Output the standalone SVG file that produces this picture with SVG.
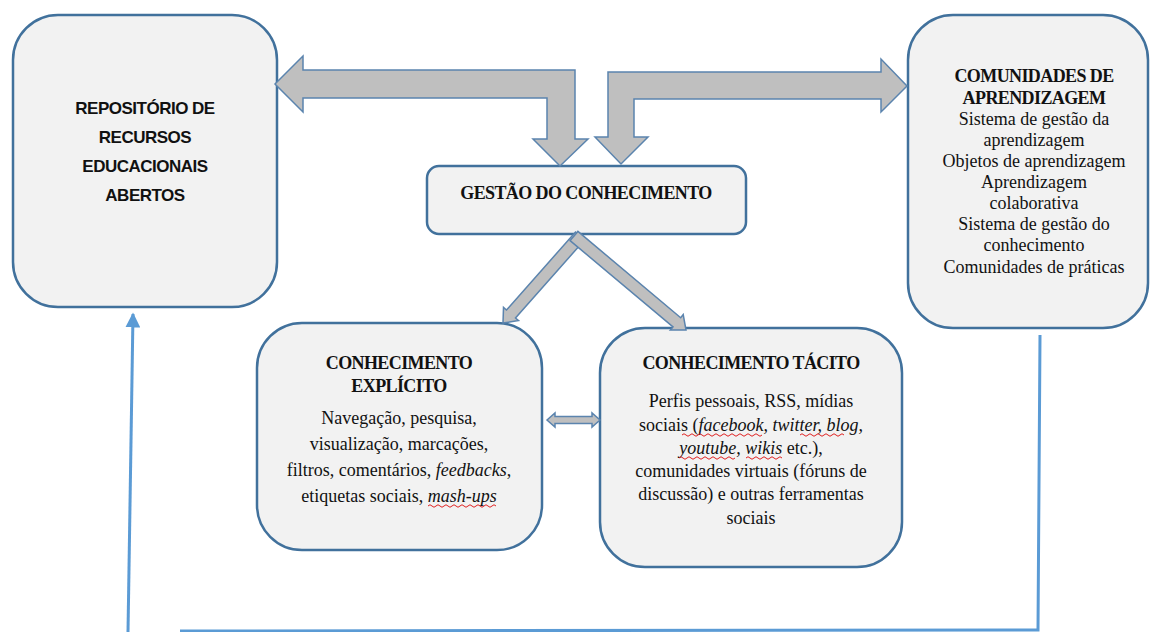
<svg xmlns="http://www.w3.org/2000/svg" width="1150" height="632" viewBox="0 0 1150 632">
  <defs>
    <style>
      .box { fill: #f2f2f2; stroke: #41719c; stroke-width: 2.5; }
      .block { fill: #bfbfbf; stroke: #5b84ae; stroke-width: 1.5; stroke-linejoin: miter; }
      .link { fill: none; stroke: #5b9bd5; stroke-width: 3; }
      .sans { font-family: "Liberation Sans", Arial, sans-serif; font-weight: bold; font-size: 17px; letter-spacing: -0.5px; fill: #111; text-anchor: middle; }
      .title { font-family: "Liberation Serif", "Times New Roman", serif; font-weight: bold; font-size: 18px; letter-spacing: -0.6px; fill: #111; text-anchor: middle; }
      .body { font-family: "Liberation Serif", "Times New Roman", serif; font-size: 18px; fill: #111; text-anchor: middle; }
      .it { font-style: italic; }
      .wavy { fill: none; stroke: #e02020; stroke-width: 1; }
    </style>
    <marker id="tri" viewBox="0 0 10 10" refX="9" refY="5" markerWidth="5" markerHeight="5" orient="auto">
      <path d="M0,0 L10,5 L0,10 Z" fill="#5b9bd5"/>
    </marker>
  </defs>

  <!-- nodes -->
  <g id="repositorio">
    <rect class="box" x="13" y="15" width="264" height="292" rx="45"/>
    <text class="sans" x="145" y="114">REPOSITÓRIO DE</text>
    <text class="sans" x="145" y="143">RECURSOS</text>
    <text class="sans" x="145" y="172">EDUCACIONAIS</text>
    <text class="sans" x="145" y="201">ABERTOS</text>
  </g>

  <g id="comunidades">
    <rect class="box" x="908" y="15" width="240" height="313" rx="45"/>
    <text class="title" x="1034" y="82">COMUNIDADES DE</text>
    <text class="title" x="1034" y="104">APRENDIZAGEM</text>
    <text class="body" x="1034" y="125">Sistema de gestão da</text>
    <text class="body" x="1034" y="146">aprendizagem</text>
    <text class="body" x="1034" y="167">Objetos de aprendizagem</text>
    <text class="body" x="1034" y="188">Aprendizagem</text>
    <text class="body" x="1034" y="209">colaborativa</text>
    <text class="body" x="1034" y="230">Sistema de gestão do</text>
    <text class="body" x="1034" y="251">conhecimento</text>
    <text class="body" x="1034" y="273">Comunidades de práticas</text>
  </g>

  <g id="gestao">
    <rect class="box" x="427" y="166" width="319" height="68" rx="12"/>
    <text class="title" x="586" y="199">GESTÃO DO CONHECIMENTO</text>
  </g>

  <g id="explicito">
    <rect class="box" x="257" y="323" width="285" height="227" rx="45"/>
    <text class="title" x="399" y="369">CONHECIMENTO</text>
    <text class="title" x="399" y="392">EXPLÍCITO</text>
    <text class="body" x="399" y="424">Navegação, pesquisa,</text>
    <text class="body" x="399" y="450">visualização, marcações,</text>
    <text class="body" x="399" y="476">filtros, comentários, <tspan class="it">feedbacks</tspan>,</text>
    <text class="body" x="399" y="502">etiquetas sociais, <tspan class="it">mash-ups</tspan></text>
    <!-- spell-check squiggle -->
    <path class="wavy" d="M428,506 q2,-2.5 4,0 t4,0 t4,0 t4,0 t4,0 t4,0 t4,0 t4,0 t4,0 t4,0 t4,0 t4,0 t4,0 t4,0 t4,0 t4,0 t4,0"/>
  </g>

  <g id="tacito">
    <rect class="box" x="600" y="328" width="302" height="239" rx="45"/>
    <text class="title" x="751" y="369">CONHECIMENTO TÁCITO</text>
    <text class="body" x="751" y="407">Perfis pessoais, RSS, mídias</text>
    <text class="body" x="751" y="431">sociais (<tspan class="it">facebook, twitter, blog,</tspan></text>
    <text class="body" x="751" y="454"><tspan class="it">youtube, wikis</tspan> etc.),</text>
    <text class="body" x="751" y="477">comunidades virtuais (fóruns de</text>
    <text class="body" x="751" y="500">discussão) e outras ferramentas</text>
    <text class="body" x="751" y="524">sociais</text>
    <!-- spell-check squiggles -->
    <path class="wavy" d="M682,435 q2,-2.5 4,0 t4,0 t4,0 t4,0 t4,0 t4,0 t4,0 t4,0 t4,0 t4,0 t4,0 t4,0 t4,0 t4,0 t4,0 t4,0 t4,0 t4,0 t4,0 t4,0"/>
    <path class="wavy" d="M800,435 q2,-2.5 4,0 t4,0 t4,0 t4,0 t4,0 t4,0 t4,0 t4,0 t4,0 t4,0 t4,0"/>
    <path class="wavy" d="M679,458 q2,-2.5 4,0 t4,0 t4,0 t4,0 t4,0 t4,0 t4,0 t4,0 t4,0 t4,0 t4,0 t4,0 t4,0 t4,0"/>
    <path class="wavy" d="M746,458 q2,-2.5 4,0 t4,0 t4,0 t4,0 t4,0 t4,0 t4,0 t4,0 t4,0"/>
  </g>

  <!-- connectors -->
  <g id="connectors">
    <!-- bent block arrow: knowledge management <-> repository -->
    <path class="block" d="M275,84 L303,56 L303,70 L575,70 L575,139 L588,139 L560,166 L533,139 L547,139 L547,98 L303,98 L303,112 Z"/>
    <!-- bent block arrow: knowledge management <-> learning communities -->
    <path class="block" d="M907,86 L881,112 L881,99 L634,99 L634,137 L648,137 L621,164 L595,137 L608,137 L608,72 L881,72 L881,59 Z"/>
    <!-- diagonal arrows to explicit / tacit knowledge -->
    <path class="block" d="M584.5,240 L515.5,318 L518.5,320.6 L503,323 L503.5,307.4 L506.5,310 L575.5,232 Z"/>
    <path class="block" d="M570.1,240.6 L673,326.9 L670.4,329.9 L686,330 L683.2,314.6 L680.7,317.7 L577.9,231.4 Z"/>
    <!-- small double arrow between explicit and tacit -->
    <path class="block" d="M547,420 L555,413 L555,416.5 L592,416.5 L592,413 L600,420 L592,427 L592,423.5 L555,423.5 L555,427 Z"/>
    <!-- feedback loop back to the repository -->
    <path class="link" d="M1040,335 L1038,630 L180,631"/>
    <path class="link" d="M128,632 L133,314" marker-end="url(#tri)"/>
  </g>
</svg>
